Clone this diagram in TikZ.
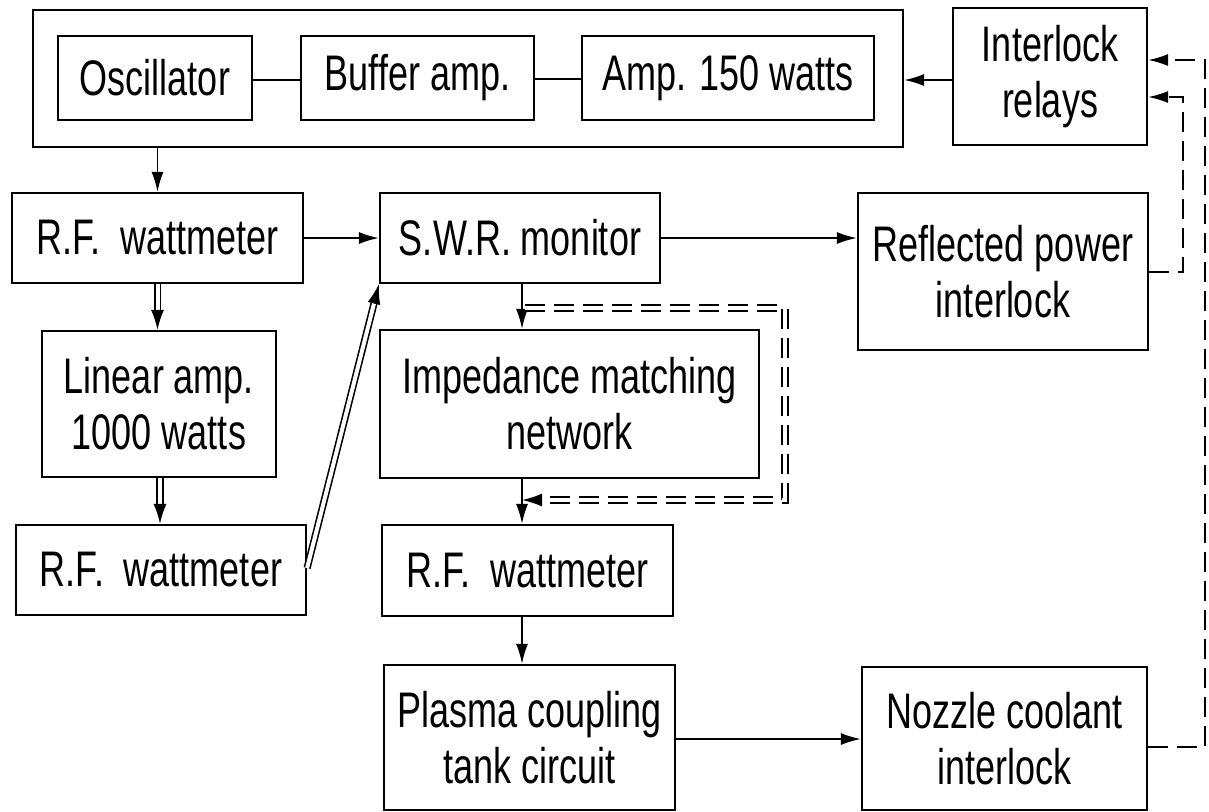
\documentclass[tikz,border=0pt]{standalone}
\usepackage{fontspec}
\setmainfont{Liberation Sans}[FakeStretch=0.72]
\usetikzlibrary{arrows.meta}
\begin{document}
\begin{tikzpicture}[x=0.5pt,y=-0.5pt,
  box/.style={draw, line width=1.1pt, inner sep=0pt, align=center,
    font=\fontsize{25}{28}\selectfont},
  wh/.style 2 args={minimum width=#1*0.5pt, minimum height=#2*0.5pt},
  conn/.style={line width=0.9pt},
  tip/.style={-{Latex[length=10pt,width=6pt]}},
  arr/.style={conn, tip},
  dbl/.style={line width=0.8pt, double, double distance=2pt, -{Latex[length=10pt,width=6.5pt]}},
  dsh/.style={conn, dash pattern=on 10pt off 4.5pt},
  ddsh/.style={line width=0.8pt, double, double distance=2pt, dash pattern=on 10pt off 4.5pt, -{Latex[length=10pt,width=6.5pt]}}]
\useasboundingbox (0,0) rectangle (1209,811);

% top group
\node[box, wh={870}{137}] (outer) at (468,78.5) {};
\node[box, wh={194}{84}] (osc) at (155,78) {Oscillator};
\node[box, wh={233}{84}] (buf) at (417.5,78) {Buffer amp.};
\node[box, wh={292}{84}] (amp) at (728,78) {Amp. 150 watts};
\node[box, wh={194}{137}] (relays) at (1050,76.5) {Interlock\\relays};

% second row
\node[box, wh={291}{90}] (rf1) at (157.5,238) {R.F.\ \ wattmeter};
\node[box, wh={280}{90}] (swr) at (520,238) {S.W.R. monitor};
\node[box, wh={290}{157}] (refl) at (1003,271.5) {Reflected power\\interlock};

% third row
\node[box, wh={234}{146}] (lin) at (159,404) {Linear amp.\\1000 watts};
\node[box, wh={379}{148}] (imp) at (569.5,404) {Impedance matching\\network};

% fourth row
\node[box, wh={290}{90}] (rf2) at (161,570) {R.F.\ \ wattmeter};
\node[box, wh={291}{91}] (rf3) at (527.5,570.5) {R.F.\ \ wattmeter};

% bottom row
\node[box, wh={291}{145}] (plasma) at (529.5,737.5) {Plasma coupling\\tank circuit};
\node[box, wh={285}{143}] (nozzle) at (1004.5,738.5) {Nozzle coolant\\interlock};

\coordinate (col) at (522,0);
\coordinate (dtop) at (525,308);
\coordinate (dtr) at (785,308);
\coordinate (dbr) at (785,500);
\coordinate (dbl) at (522,500);
\coordinate (r1) at (1183,272);
\coordinate (r2) at (1183,97);
\coordinate (n1) at (1205,747);
\coordinate (n2) at (1205,60);

% connectors
\draw[conn] (osc.east |- 0,80) -- (buf.west |- 0,80);
\draw[conn] (buf.east |- 0,79) -- (amp.west |- 0,79);
\draw[arr] (relays.west |- 0,80) -- (outer.east |- 0,80);
\draw[arr] (rf1.north |- outer.south) -- (rf1.north);
\draw[arr] (rf1.east) -- (swr.west);
\draw[arr] (swr.east) -- (swr.east -| refl.west);
\draw[dbl] (rf1.south) -- (rf1.south |- lin.north);
\draw[dbl] (lin.south -| 160,0) -- (rf2.north -| 160,0);
\draw[dbl] (rf2.east |- 0,568) -- (swr.south west);
\draw[arr] (col |- swr.south) -- (col |- imp.north);
\draw[arr] (col |- imp.south) -- (col |- rf3.north);
\draw[arr] (col |- rf3.south) -- (col |- plasma.north);
\draw[arr] (plasma.east |- 0,739) -- (nozzle.west |- 0,739);
\draw[ddsh] (dtop) -- (dtr) -- (dbr) -- (dbl);
\draw[dsh, tip] (refl.east |- r1) -- (r1) -- (r2) -- (relays.east |- r2);
\draw[dsh, tip] (nozzle.east |- n1) -- (n1) -- (n2) -- (relays.east |- n2);
\end{tikzpicture}
\end{document}
